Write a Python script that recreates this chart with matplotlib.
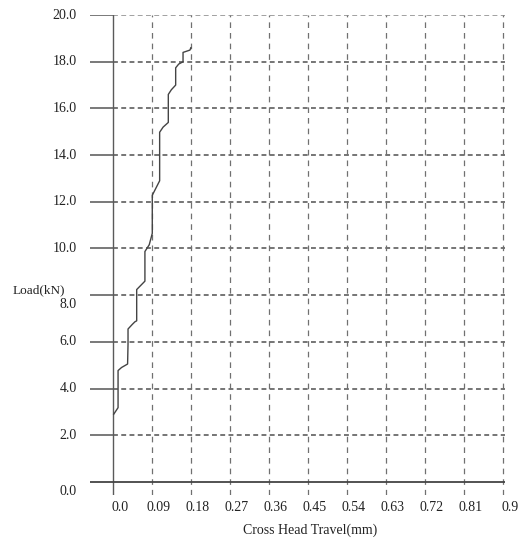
import matplotlib.pyplot as plt

# load vs cross head travel
travel = [0.002, 0.012, 0.012, 0.020, 0.034, 0.035, 0.035, 0.045, 0.051, 0.055, 0.055,
          0.074, 0.074, 0.084, 0.091, 0.091, 0.108, 0.108, 0.116, 0.128, 0.128,
          0.135, 0.145, 0.145, 0.152, 0.162, 0.162, 0.170, 0.178, 0.180]
load = [2.9, 3.18, 4.77, 4.9, 5.05, 5.9, 6.55, 6.75, 6.86, 6.9, 8.24,
        8.6, 9.87, 10.16, 10.65, 12.28, 12.9, 14.98, 15.2, 15.4, 16.6,
        16.8, 17.0, 17.74, 17.9, 18.0, 18.4, 18.45, 18.5, 18.6]

x_ticks = [0.0, 0.09, 0.18, 0.27, 0.36, 0.45, 0.54, 0.63, 0.72, 0.81, 0.9]
x_labels = ["0.0", "0.09", "0.18", "0.27", "0.36", "0.45", "0.54", "0.63", "0.72", "0.81", "0.9"]
y_ticks = [0, 2, 4, 6, 8, 10, 12, 14, 16, 18, 20]
y_labels = ["0.0", "2.0", "4.0", "6.0", "8.0", "10.0", "12.0", "14.0", "16.0", "18.0", "20.0"]

plt.rcParams['font.family'] = ['Liberation Serif', 'DejaVu Serif']

fig = plt.figure(figsize=(5.32, 5.38), dpi=100)
ax = fig.add_axes([0.169, 0.080, 0.780, 0.892])
xmin, xmax = -0.053, 0.905
ymin, ymax = -0.56, 20.0
ax.set_xlim(xmin, xmax)
ax.set_ylim(ymin, ymax)
ax.axis("off")

# horizontal grid: solid stub left of the axis, dashed across the plot
for y in y_ticks[1:]:
    ax.plot([xmin, 0], [y, y], color="#555555", lw=1.1, solid_capstyle="butt")
    c = "#888888" if y == 20 else "#505050"
    ax.plot([0, 0.905], [y, y], color=c, lw=1.1, dashes=(3.2, 2.2))

# vertical grid lines, dashed, running a little below the x axis
for x in x_ticks[1:]:
    ax.plot([x, x], [ymin, ymax], color="#707070", lw=0.9, dashes=(4.5, 4))

# axes
ax.plot([0, 0], [ymin, ymax], color="#5a5a5a", lw=1.0)
ax.plot([xmin, 0.91], [0, 0], color="#444444", lw=1.3)

ax.plot(travel, load, color="#444444", lw=1.0)

for x, lab in zip(x_ticks, x_labels):
    ax.annotate(lab, (x, 0), xytext=(5, -18.5), textcoords="offset points",
                ha="center", va="center", fontsize=10, color="#222222",
                annotation_clip=False)

for y, lab in zip(y_ticks, y_labels):
    dy = 0
    if y == 8:
        dy = -6.5
    if y == 0:
        dy = -7
    ax.annotate(lab, (xmin, y), xytext=(-9.5, dy), textcoords="offset points",
                ha="right", va="center", fontsize=10, color="#222222",
                annotation_clip=False)

fig.text(0.024, 1 - 290 / 538, "Load(kN)", fontsize=9.5, color="#222222",
         ha="left", va="center")
fig.text(310 / 532, 1 - 530 / 538, "Cross Head Travel(mm)", fontsize=10,
         color="#222222", ha="center", va="center")

fig.savefig("out.png", dpi=100)
